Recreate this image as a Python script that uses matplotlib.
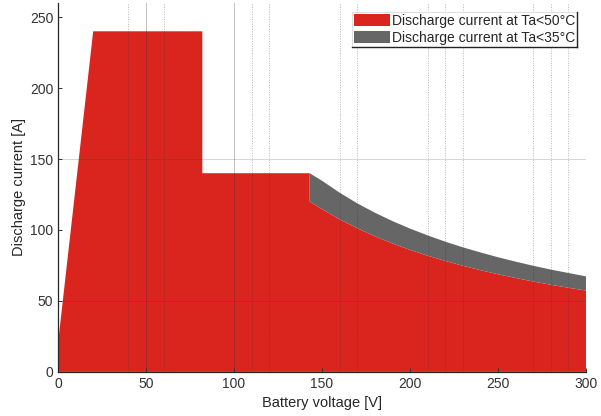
import matplotlib as mpl
mpl.use('Agg')
import matplotlib.pyplot as plt
from matplotlib.patches import Patch
from matplotlib.lines import Line2D

plt.rcParams['font.family'] = ['Liberation Sans', 'DejaVu Sans']

# outline of the 50 degC limit before the constant power part
edge_v = [0, 0, 20, 82, 82, 143]
edge_i = [0, 20, 240, 240, 140, 140]

# constant power part
curve_v = [143, 150, 160, 170, 180, 190, 200, 210, 220, 230, 240, 250, 260, 270, 280, 290, 300]
i_50 = [120, 114.7, 107.5, 101.2, 95.6, 90.5, 86, 81.9, 78.2, 74.8, 71.7, 68.8, 66.2, 63.7, 61.4, 59.3, 57.3]
i_35 = [140, 134.7, 126.3, 118.8, 112.2, 106.3, 101, 96.2, 91.8, 87.8, 84.2, 80.8, 77.7, 74.8, 72.1, 69.7, 67.3]

major_v = [50, 100]
minor_v = [40, 60, 110, 120, 160, 170, 210, 220, 230, 270, 280, 290]
grid_i = [50, 150]

red = '#d9251d'
grey = '#666666'

fig = plt.figure(figsize=(6.01, 4.16), dpi=100)
ax = fig.add_axes([0.0965, 0.106, 0.8785, 0.887])

# red area: 50 degC limit
xs = edge_v + curve_v + [300]
ys = edge_i + i_50 + [0]
ax.fill(xs, ys, facecolor=red, edgecolor='none', zorder=1)

# grey band: extra current up to 35 degC
ax.fill_between(curve_v, i_50, i_35, facecolor=grey, edgecolor='none', zorder=1)

# grid lines drawn over the fills
for v in major_v:
    ax.axvline(v, color='0.2', lw=0.7, alpha=0.3, zorder=2)
for v in minor_v:
    ax.axvline(v, color='0.2', lw=0.7, alpha=0.35, ls=(0, (1, 1.5)), zorder=2)
for i in grid_i:
    ax.axhline(i, color='0.2', lw=0.7, alpha=0.2, zorder=2)

ax.set_xlim(0, 300)
ax.set_ylim(0, 260)
ax.set_xticks([0, 50, 100, 150, 200, 250, 300])
ax.set_yticks([0, 50, 100, 150, 200, 250])

for s in ['top', 'right']:
    ax.spines[s].set_visible(False)
for s in ['left', 'bottom']:
    ax.spines[s].set_color('#262626')
    ax.spines[s].set_linewidth(0.9)
    ax.spines[s].set_zorder(3)

ax.tick_params(axis='both', labelsize=10, colors='#333333', direction='in', length=3, width=0.7)
ax.tick_params(axis='x', pad=4)

ax.set_xlabel('Battery voltage [V]', fontsize=10.5, color='#262626', labelpad=3)
ax.set_ylabel('Discharge current [A]', fontsize=10.5, color='#262626', labelpad=3)

handles = [Patch(facecolor=red, edgecolor='none'), Patch(facecolor=grey, edgecolor='none')]
leg = ax.legend(handles, ['Discharge current at Ta<50°C', 'Discharge current at Ta<35°C'],
                loc='upper right', bbox_to_anchor=(0.983, 0.976), fontsize=10,
                fancybox=False, framealpha=1,
                borderpad=0.15, handlelength=2.6, handleheight=1.0, handletextpad=0.1,
                labelspacing=0.2, borderaxespad=0)
leg.get_frame().set_edgecolor('0.85')
leg.get_frame().set_linewidth(0.6)
for t in leg.get_texts():
    t.set_color('#262626')

# thin dark edge on the right and bottom of the legend box
fig.canvas.draw()
bb = leg.get_window_extent().transformed(fig.transFigure.inverted())
fig.add_artist(Line2D([bb.x1, bb.x1], [bb.y0, bb.y1], color='#222222', lw=1.0))
fig.add_artist(Line2D([bb.x0, bb.x1], [bb.y0, bb.y0], color='#222222', lw=1.0))

fig.savefig('out.png', dpi=100)
